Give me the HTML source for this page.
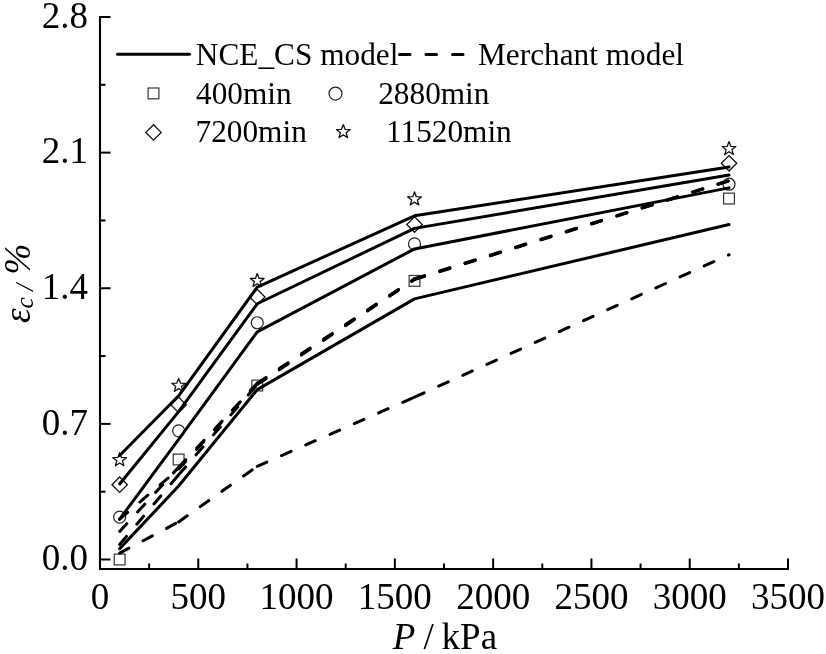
<!DOCTYPE html>
<html><head><meta charset="utf-8"><style>
html,body{margin:0;padding:0;background:#fff;}
svg{display:block;will-change:transform;}
text{font-family:"Liberation Serif",serif;fill:#000;}
</style></head><body>
<svg width="826" height="654" viewBox="0 0 826 654">
<rect width="826" height="654" fill="#fff"/>
<path d="M100 16V569H789" fill="none" stroke="#000" stroke-width="2.1" stroke-linejoin="miter" stroke-linecap="butt"/>
<path d="M100 559.5h10.5" stroke="#000" stroke-width="2"/>
<path d="M100 491.69h5.5" stroke="#000" stroke-width="2"/>
<path d="M100 423.88h10.5" stroke="#000" stroke-width="2"/>
<path d="M100 356.06h5.5" stroke="#000" stroke-width="2"/>
<path d="M100 288.25h10.5" stroke="#000" stroke-width="2"/>
<path d="M100 220.44h5.5" stroke="#000" stroke-width="2"/>
<path d="M100 152.63h10.5" stroke="#000" stroke-width="2"/>
<path d="M100 84.81h5.5" stroke="#000" stroke-width="2"/>
<path d="M100 17h10.5" stroke="#000" stroke-width="2"/>
<path d="M100 569v-10.5" stroke="#000" stroke-width="2"/>
<path d="M149.14 569v-5.5" stroke="#000" stroke-width="2"/>
<path d="M198.29 569v-10.5" stroke="#000" stroke-width="2"/>
<path d="M247.43 569v-5.5" stroke="#000" stroke-width="2"/>
<path d="M296.57 569v-10.5" stroke="#000" stroke-width="2"/>
<path d="M345.71 569v-5.5" stroke="#000" stroke-width="2"/>
<path d="M394.86 569v-10.5" stroke="#000" stroke-width="2"/>
<path d="M444 569v-5.5" stroke="#000" stroke-width="2"/>
<path d="M493.14 569v-10.5" stroke="#000" stroke-width="2"/>
<path d="M542.29 569v-5.5" stroke="#000" stroke-width="2"/>
<path d="M591.43 569v-10.5" stroke="#000" stroke-width="2"/>
<path d="M640.57 569v-5.5" stroke="#000" stroke-width="2"/>
<path d="M689.71 569v-10.5" stroke="#000" stroke-width="2"/>
<path d="M738.86 569v-5.5" stroke="#000" stroke-width="2"/>
<path d="M788 569v-10.5" stroke="#000" stroke-width="2"/>
<rect x="114.26" y="554.1" width="10.8" height="10.8" fill="none" stroke="#333" stroke-width="1.2"/>
<rect x="173.23" y="454.12" width="10.8" height="10.8" fill="none" stroke="#333" stroke-width="1.2"/>
<rect x="251.86" y="380.11" width="10.8" height="10.8" fill="none" stroke="#333" stroke-width="1.2"/>
<rect x="409.11" y="275.49" width="10.8" height="10.8" fill="none" stroke="#333" stroke-width="1.2"/>
<rect x="723.63" y="193.14" width="10.8" height="10.8" fill="none" stroke="#333" stroke-width="1.2"/>
<circle cx="119.66" cy="517.07" r="6" fill="none" stroke="#222" stroke-width="1.2"/>
<circle cx="178.63" cy="430.85" r="6" fill="none" stroke="#222" stroke-width="1.2"/>
<circle cx="257.26" cy="322.74" r="6" fill="none" stroke="#222" stroke-width="1.2"/>
<circle cx="414.51" cy="243.88" r="6" fill="none" stroke="#222" stroke-width="1.2"/>
<circle cx="729.03" cy="184.21" r="6" fill="none" stroke="#222" stroke-width="1.2"/>
<path d="M119.66 477.01L127.36 484.71L119.66 492.41L111.96 484.71Z" fill="none" stroke="#111" stroke-width="1.3"/>
<path d="M178.63 397.19L186.33 404.89L178.63 412.59L170.93 404.89Z" fill="none" stroke="#111" stroke-width="1.3"/>
<path d="M257.26 289.27L264.96 296.97L257.26 304.67L249.56 296.97Z" fill="none" stroke="#111" stroke-width="1.3"/>
<path d="M414.51 216.81L422.21 224.51L414.51 232.21L406.81 224.51Z" fill="none" stroke="#111" stroke-width="1.3"/>
<path d="M729.03 155.58L736.73 163.28L729.03 170.98L721.33 163.28Z" fill="none" stroke="#111" stroke-width="1.3"/>
<polygon points="119.66,452.71 121.43,457.47 126.5,457.69 122.53,460.85 123.89,465.74 119.66,462.94 115.43,465.74 116.78,460.85 112.81,457.69 117.88,457.47" fill="none" stroke="#111" stroke-width="1.3" stroke-linejoin="round"/>
<polygon points="178.63,378.31 180.41,383.07 185.48,383.29 181.5,386.45 182.86,391.34 178.63,388.54 174.4,391.34 175.75,386.45 171.78,383.29 176.85,383.07" fill="none" stroke="#111" stroke-width="1.3" stroke-linejoin="round"/>
<polygon points="257.26,273.49 259.03,278.25 264.1,278.47 260.13,281.63 261.49,286.52 257.26,283.72 253.03,286.52 254.38,281.63 250.41,278.47 255.48,278.25" fill="none" stroke="#111" stroke-width="1.3" stroke-linejoin="round"/>
<polygon points="414.51,191.93 416.29,196.68 421.36,196.9 417.39,200.06 418.75,204.95 414.51,202.15 410.28,204.95 411.64,200.06 407.67,196.9 412.74,196.68" fill="none" stroke="#111" stroke-width="1.3" stroke-linejoin="round"/>
<polygon points="729.03,141.55 730.81,146.3 735.88,146.53 731.9,149.68 733.26,154.57 729.03,151.77 724.8,154.57 726.15,149.68 722.18,146.53 727.25,146.3" fill="none" stroke="#111" stroke-width="1.3" stroke-linejoin="round"/>
<polyline points="119.66,455.46 178.63,395.78 257.26,287.09 414.51,215.79 729.03,166.96" fill="none" stroke="#000" stroke-width="3.0" stroke-linejoin="round" stroke-linecap="round"/>
<polyline points="119.66,483.94 178.63,411.67 257.26,303.75 414.51,228.38 729.03,175.1" fill="none" stroke="#000" stroke-width="3.0" stroke-linejoin="round" stroke-linecap="round"/>
<polyline points="119.66,519.2 178.63,439.38 257.26,331.84 414.51,248.92 729.03,187.89" fill="none" stroke="#000" stroke-width="3.0" stroke-linejoin="round" stroke-linecap="round"/>
<polyline points="119.66,548.65 178.63,486.07 257.26,389.58 414.51,298.91 729.03,224.51" fill="none" stroke="#000" stroke-width="3.0" stroke-linejoin="round" stroke-linecap="round"/>
<line x1="119.66" y1="519.2" x2="178.63" y2="469.02" stroke="#000" stroke-width="3.0" stroke-dasharray="10.5 16" stroke-linecap="round"/>
<line x1="178.63" y1="469.02" x2="257.26" y2="383.19" stroke="#000" stroke-width="3.0" stroke-dasharray="10.5 16" stroke-linecap="round"/>
<line x1="257.26" y1="383.19" x2="414.51" y2="278.76" stroke="#000" stroke-width="3.0" stroke-dasharray="10.5 16" stroke-linecap="round"/>
<line x1="414.51" y1="278.76" x2="729.03" y2="180.53" stroke="#000" stroke-width="3.0" stroke-dasharray="10.5 16" stroke-linecap="round"/>
<line x1="119.66" y1="531.41" x2="178.63" y2="467.27" stroke="#000" stroke-width="3.0" stroke-dasharray="10.5 16" stroke-linecap="round"/>
<line x1="178.63" y1="467.27" x2="257.26" y2="383.77" stroke="#000" stroke-width="3.0" stroke-dasharray="10.5 16" stroke-linecap="round"/>
<line x1="257.26" y1="383.77" x2="414.51" y2="279.14" stroke="#000" stroke-width="3.0" stroke-dasharray="10.5 16" stroke-linecap="round"/>
<line x1="414.51" y1="279.14" x2="729.03" y2="180.72" stroke="#000" stroke-width="3.0" stroke-dasharray="10.5 16" stroke-linecap="round"/>
<line x1="119.66" y1="544.39" x2="178.63" y2="474.83" stroke="#000" stroke-width="3.0" stroke-dasharray="10.5 16" stroke-linecap="round"/>
<line x1="178.63" y1="474.83" x2="257.26" y2="384.54" stroke="#000" stroke-width="3.0" stroke-dasharray="10.5 16" stroke-linecap="round"/>
<line x1="257.26" y1="384.54" x2="414.51" y2="279.53" stroke="#000" stroke-width="3.0" stroke-dasharray="10.5 16" stroke-linecap="round"/>
<line x1="414.51" y1="279.53" x2="729.03" y2="180.91" stroke="#000" stroke-width="3.0" stroke-dasharray="10.5 16" stroke-linecap="round"/>
<line x1="119.66" y1="553.11" x2="178.63" y2="521.91" stroke="#000" stroke-width="3.0" stroke-dasharray="10.5 16" stroke-linecap="round"/>
<line x1="178.63" y1="521.91" x2="257.26" y2="466.31" stroke="#000" stroke-width="3.0" stroke-dasharray="10.5 16" stroke-linecap="round"/>
<line x1="257.26" y1="466.31" x2="414.51" y2="397.14" stroke="#000" stroke-width="3.0" stroke-dasharray="10.5 16" stroke-linecap="round"/>
<line x1="414.51" y1="397.14" x2="729.03" y2="254.73" stroke="#000" stroke-width="3.0" stroke-dasharray="10.5 16" stroke-linecap="round"/>
<line x1="117.5" y1="54.3" x2="189.5" y2="54.3" stroke="#000" stroke-width="3.0" stroke-linecap="round"/>
<line x1="399.5" y1="54.4" x2="472" y2="54.4" stroke="#000" stroke-width="3.0" stroke-dasharray="10.5 16" stroke-linecap="round"/>
<rect x="148.1" y="88" width="10.8" height="10.8" fill="none" stroke="#333" stroke-width="1.2"/>
<path d="M153.5 124.7L161.2 132.4L153.5 140.1L145.8 132.4Z" fill="none" stroke="#111" stroke-width="1.3"/>
<circle cx="335.5" cy="93.6" r="6.5" fill="none" stroke="#222" stroke-width="1.2"/>
<polygon points="343.3,124.6 345.08,129.35 350.15,129.58 346.18,132.73 347.53,137.62 343.3,134.82 339.07,137.62 340.42,132.73 336.45,129.58 341.52,129.35" fill="none" stroke="#111" stroke-width="1.3" stroke-linejoin="round"/>
<text x="195.8" y="65.2" text-anchor="start" font-size="31.3" >NCE_CS model</text>
<text x="478" y="65.2" text-anchor="start" font-size="31.3" >Merchant model</text>
<text x="196" y="103.6" text-anchor="start" font-size="31.3" >400min</text>
<text x="378.2" y="103.6" text-anchor="start" font-size="31.3" >2880min</text>
<text x="195.5" y="142.3" text-anchor="start" font-size="31.3" >7200min</text>
<text x="386" y="142.3" text-anchor="start" font-size="31.3" >11520min</text>
<text x="88" y="570.3" text-anchor="end" font-size="37" >0.0</text>
<text x="88" y="434.68" text-anchor="end" font-size="37" >0.7</text>
<text x="88" y="299.05" text-anchor="end" font-size="37" >1.4</text>
<text x="88" y="163.43" text-anchor="end" font-size="37" >2.1</text>
<text x="88" y="27.8" text-anchor="end" font-size="37" >2.8</text>
<text x="100" y="609.4" text-anchor="middle" font-size="37" >0</text>
<text x="198.29" y="609.4" text-anchor="middle" font-size="37" >500</text>
<text x="296.57" y="609.4" text-anchor="middle" font-size="37" >1000</text>
<text x="394.86" y="609.4" text-anchor="middle" font-size="37" >1500</text>
<text x="493.14" y="609.4" text-anchor="middle" font-size="37" >2000</text>
<text x="591.43" y="609.4" text-anchor="middle" font-size="37" >2500</text>
<text x="689.71" y="609.4" text-anchor="middle" font-size="37" >3000</text>
<text x="788" y="609.4" text-anchor="middle" font-size="37" >3500</text>
<text y="649.4" font-size="37"><tspan x="392.7" font-style="italic">P</tspan><tspan x="423.6">/</tspan><tspan x="441.6">kPa</tspan></text>
<text transform="translate(29.6,323) rotate(-90)" font-size="37" font-style="italic">ε<tspan font-size="25.5" dy="3.4">c /</tspan><tspan dy="-3.4"> %</tspan></text>
</svg>
</body></html>
